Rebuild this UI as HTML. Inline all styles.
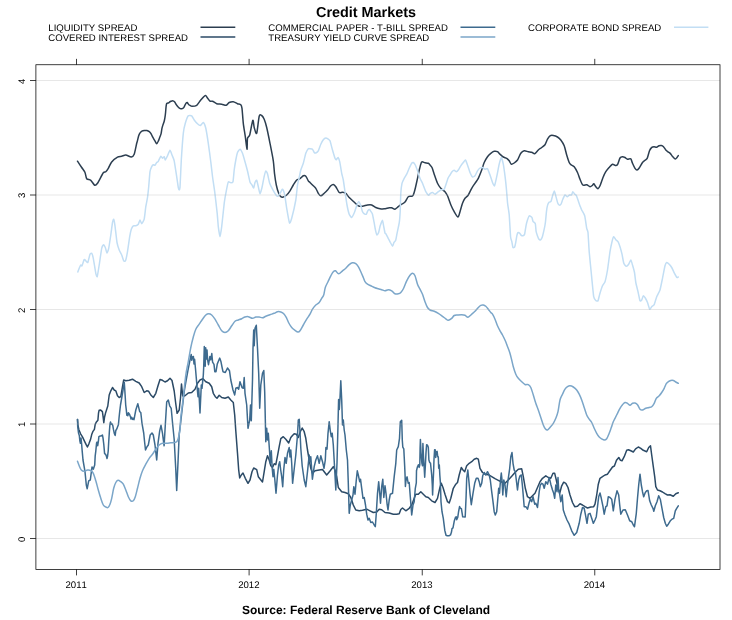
<!DOCTYPE html>
<html><head><meta charset="utf-8"><title>Credit Markets</title>
<style>
html,body{margin:0;padding:0;background:#fff;}
body{width:732px;height:620px;overflow:hidden;font-family:"Liberation Sans",sans-serif;}
svg{display:block;will-change:transform}
text{font-family:"Liberation Sans",sans-serif;fill:#000;text-rendering:geometricPrecision}
.s{font-size:9.6px;font-kerning:none}
.ln{fill:none;stroke-width:1.5;stroke-linejoin:round;stroke-linecap:round}
</style></head><body>
<svg width="732" height="620" viewBox="0 0 732 620">
<rect x="0" y="0" width="732" height="620" fill="#fff"/>
<text x="366" y="16.8" text-anchor="middle" style="font-size:14.4px;font-weight:bold">Credit Markets</text>
<text x="366" y="614.2" text-anchor="middle" style="font-size:12px;font-weight:bold">Source: Federal Reserve Bank of Cleveland</text>
<text class="s" x="48.3" y="31">LIQUIDITY SPREAD</text>
<line x1="200.5" x2="235.3" y1="27.25" y2="27.25" stroke="#2C3E50" stroke-width="1.5"/>
<text class="s" x="48.3" y="41">COVERED INTEREST SPREAD</text>
<line x1="200.5" x2="235.3" y1="37" y2="37" stroke="#2B4A66" stroke-width="1.5"/>
<text class="s" x="268.3" y="31">COMMERCIAL PAPER - T-BILL SPREAD</text>
<line x1="460.5" x2="495.3" y1="27.25" y2="27.25" stroke="#3D6A8E" stroke-width="1.5"/>
<text class="s" x="268.3" y="41">TREASURY YIELD CURVE SPREAD</text>
<line x1="460.5" x2="495.3" y1="37" y2="37" stroke="#7BA6C9" stroke-width="1.5"/>
<text class="s" x="528" y="31">CORPORATE BOND SPREAD</text>
<line x1="674" x2="708.4" y1="27.25" y2="27.25" stroke="#C2DEF4" stroke-width="1.5"/>
<path class="ln" stroke="#2C3E50" d="M77.50 161.20 C78.06 162.04 80.70 165.99 81.70 167.50 C82.70 169.01 84.33 171.01 85.00 172.50 C85.67 173.99 85.93 177.66 86.70 178.70 C87.47 179.74 89.73 179.43 90.80 180.30 C91.87 181.17 93.81 184.80 94.70 185.20 C95.59 185.60 96.35 184.95 97.50 183.30 C98.65 181.65 102.19 174.35 103.30 172.80 C104.41 171.25 105.13 172.30 105.80 171.70 C106.47 171.10 107.51 169.59 108.30 168.30 C109.09 167.01 110.47 163.48 111.70 162.00 C112.93 160.52 116.17 157.96 117.50 157.20 C118.83 156.44 120.59 156.59 121.70 156.30 C122.81 156.01 124.52 154.91 125.80 155.00 C127.08 155.09 130.18 157.11 131.30 157.00 C132.42 156.89 133.48 156.03 134.20 154.20 C134.92 152.37 136.27 145.07 136.70 143.30 C137.13 141.53 137.15 141.86 137.40 140.90 C137.65 139.94 138.27 137.13 138.60 136.10 C138.93 135.07 139.46 133.85 139.90 133.20 C140.34 132.55 141.30 131.56 141.90 131.20 C142.50 130.84 143.73 130.59 144.40 130.50 C145.07 130.41 146.25 130.35 146.90 130.50 C147.55 130.65 148.75 131.19 149.30 131.60 C149.85 132.01 150.56 132.89 151.00 133.60 C151.44 134.31 152.16 136.07 152.60 136.90 C153.04 137.73 153.97 139.23 154.30 139.80 C154.63 140.37 154.78 140.68 155.10 141.20 C155.42 141.72 156.26 143.74 156.70 143.70 C157.14 143.66 158.01 141.70 158.40 140.90 C158.79 140.10 159.24 138.67 159.60 137.70 C159.96 136.73 160.79 134.80 161.10 133.60 C161.41 132.40 161.67 129.79 161.90 128.70 C162.13 127.61 162.49 126.39 162.80 125.40 C163.11 124.41 163.91 122.39 164.20 121.30 C164.49 120.21 164.81 118.41 165.00 117.20 C165.19 115.99 165.47 113.52 165.60 112.20 C165.73 110.88 165.88 108.39 166.00 107.30 C166.12 106.21 166.31 104.55 166.50 104.00 C166.69 103.45 167.11 103.36 167.40 103.20 C167.69 103.04 168.31 103.03 168.70 102.80 C169.09 102.57 169.86 101.75 170.30 101.50 C170.74 101.25 171.56 100.95 172.00 100.90 C172.44 100.85 173.21 100.91 173.60 101.10 C173.99 101.29 174.57 101.86 174.90 102.30 C175.23 102.74 175.73 103.84 176.10 104.40 C176.47 104.96 177.26 106.01 177.70 106.50 C178.14 106.99 178.96 107.79 179.40 108.10 C179.84 108.41 180.56 108.77 181.00 108.80 C181.44 108.83 182.31 108.50 182.70 108.30 C183.09 108.10 183.58 107.77 183.90 107.30 C184.22 106.83 184.79 105.37 185.10 104.80 C185.41 104.23 185.92 103.31 186.20 103.00 C186.48 102.69 186.96 102.42 187.20 102.50 C187.44 102.58 187.79 103.31 188.00 103.60 C188.21 103.89 188.53 104.46 188.80 104.70 C189.07 104.94 189.57 105.19 190.00 105.40 C190.43 105.61 191.11 106.31 192.00 106.30 C192.89 106.29 195.53 106.14 196.70 105.30 C197.87 104.46 199.65 101.31 200.80 100.00 C201.95 98.69 204.41 95.77 205.30 95.50 C206.19 95.23 206.87 97.24 207.50 98.00 C208.13 98.76 209.33 100.77 210.00 101.20 C210.67 101.63 211.61 100.87 212.50 101.20 C213.39 101.53 215.47 103.30 216.70 103.70 C217.93 104.10 220.42 104.00 221.70 104.20 C222.98 104.40 225.30 105.43 226.30 105.20 C227.30 104.97 228.27 102.97 229.20 102.50 C230.13 102.03 232.19 101.54 233.30 101.70 C234.41 101.86 236.50 103.30 237.50 103.70 C238.50 104.10 240.20 104.09 240.80 104.70 C241.40 105.31 241.67 105.82 242.00 108.30 C242.33 110.78 242.86 119.51 243.30 123.30 C243.74 127.09 244.81 133.25 245.30 136.70 C245.79 140.15 246.71 148.99 247.00 149.20 C247.29 149.41 247.14 140.19 247.50 138.30 C247.86 136.41 248.99 137.40 249.70 135.00 C250.41 132.60 252.20 121.30 252.80 120.30 C253.40 119.30 253.68 125.77 254.20 127.50 C254.72 129.23 256.03 134.81 256.70 133.30 C257.37 131.79 258.53 118.57 259.20 116.20 C259.87 113.83 261.03 115.10 261.70 115.50 C262.37 115.90 263.53 117.60 264.20 119.20 C264.87 120.80 265.93 124.29 266.70 127.50 C267.47 130.71 269.12 138.86 270.00 143.30 C270.88 147.74 272.70 156.80 273.30 160.80 C273.90 164.80 274.10 170.07 274.50 173.30 C274.90 176.53 275.74 182.33 276.30 185.00 C276.86 187.67 278.10 191.74 278.70 193.30 C279.30 194.86 280.19 196.21 280.80 196.70 C281.41 197.19 282.51 197.23 283.30 197.00 C284.09 196.77 285.81 195.83 286.70 195.00 C287.59 194.17 289.12 192.13 290.00 190.80 C290.88 189.47 292.41 186.44 293.30 185.00 C294.19 183.56 295.81 180.84 296.70 180.00 C297.59 179.16 299.12 179.26 300.00 178.70 C300.88 178.14 302.53 176.13 303.30 175.80 C304.07 175.47 305.13 175.53 305.80 176.20 C306.47 176.87 307.74 179.96 308.30 180.80 C308.86 181.64 309.33 181.83 310.00 182.50 C310.67 183.17 312.53 185.03 313.30 185.80 C314.07 186.57 315.13 187.30 315.80 188.30 C316.47 189.30 317.63 192.30 318.30 193.30 C318.97 194.30 320.01 195.80 320.80 195.80 C321.59 195.80 323.31 194.07 324.20 193.30 C325.09 192.53 326.62 191.00 327.50 190.00 C328.38 189.00 330.03 186.53 330.80 185.80 C331.57 185.07 332.63 184.38 333.30 184.50 C333.97 184.62 335.01 185.63 335.80 186.70 C336.59 187.77 338.31 191.77 339.20 192.50 C340.09 193.23 341.62 192.09 342.50 192.20 C343.38 192.31 344.91 192.59 345.80 193.30 C346.69 194.01 348.20 196.43 349.20 197.50 C350.20 198.57 352.09 200.19 353.30 201.30 C354.51 202.41 357.07 205.15 358.30 205.80 C359.53 206.45 361.27 206.31 362.50 206.20 C363.73 206.09 366.27 205.16 367.50 205.00 C368.73 204.84 370.59 204.67 371.70 205.00 C372.81 205.33 374.69 207.01 375.80 207.50 C376.91 207.99 378.88 208.53 380.00 208.70 C381.12 208.87 382.97 208.93 384.20 208.80 C385.43 208.67 388.20 207.83 389.20 207.70 C390.20 207.57 390.93 207.60 391.70 207.80 C392.47 208.00 394.12 209.35 395.00 209.20 C395.88 209.05 397.41 207.37 398.30 206.70 C399.19 206.03 400.81 204.83 401.70 204.20 C402.59 203.57 404.12 203.00 405.00 202.00 C405.88 201.00 407.41 197.46 408.30 196.70 C409.19 195.94 411.03 196.53 411.70 196.30 C412.37 196.07 412.82 196.07 413.30 195.00 C413.78 193.93 414.74 190.53 415.30 188.30 C415.86 186.07 416.91 180.97 417.50 178.30 C418.09 175.63 419.14 170.47 419.70 168.30 C420.26 166.13 420.99 162.73 421.70 162.00 C422.41 161.27 424.12 162.63 425.00 162.80 C425.88 162.97 427.63 163.01 428.30 163.30 C428.97 163.59 429.51 164.44 430.00 165.00 C430.49 165.56 431.44 166.27 432.00 167.50 C432.56 168.73 433.47 172.09 434.20 174.20 C434.93 176.31 436.62 181.42 437.50 183.30 C438.38 185.18 439.80 187.18 440.80 188.30 C441.80 189.42 444.11 190.70 445.00 191.70 C445.89 192.70 446.73 194.07 447.50 195.80 C448.27 197.53 449.91 202.58 450.80 204.70 C451.69 206.82 453.24 210.06 454.20 211.70 C455.16 213.34 457.23 217.00 458.00 217.00 C458.77 217.00 459.40 213.53 460.00 211.70 C460.60 209.87 461.83 205.09 462.50 203.30 C463.17 201.51 464.23 199.41 465.00 198.30 C465.77 197.19 467.41 196.33 468.30 195.00 C469.19 193.67 470.81 189.86 471.70 188.30 C472.59 186.74 474.12 184.63 475.00 183.30 C475.88 181.97 477.41 180.07 478.30 178.30 C479.19 176.53 480.91 172.11 481.70 170.00 C482.49 167.89 483.43 164.27 484.20 162.50 C484.97 160.73 486.62 157.93 487.50 156.70 C488.38 155.47 489.91 154.02 490.80 153.30 C491.69 152.58 493.31 151.51 494.20 151.30 C495.09 151.09 496.73 151.31 497.50 151.70 C498.27 152.09 499.23 153.49 500.00 154.20 C500.77 154.91 502.41 156.45 503.30 157.00 C504.19 157.55 505.91 157.79 506.70 158.30 C507.49 158.81 508.59 160.01 509.20 160.80 C509.81 161.59 510.63 163.91 511.30 164.20 C511.97 164.49 513.37 163.56 514.20 163.00 C515.03 162.44 516.62 161.29 517.50 160.00 C518.38 158.71 519.91 154.53 520.80 153.30 C521.69 152.07 523.20 151.01 524.20 150.80 C525.20 150.59 527.30 151.51 528.30 151.70 C529.30 151.89 530.85 151.93 531.70 152.20 C532.55 152.47 533.82 153.99 534.70 153.70 C535.58 153.41 537.37 150.83 538.30 150.00 C539.23 149.17 540.81 148.21 541.70 147.50 C542.59 146.79 544.23 145.81 545.00 144.70 C545.77 143.59 546.83 140.39 547.50 139.20 C548.17 138.01 549.23 136.29 550.00 135.80 C550.77 135.31 552.30 135.34 553.30 135.50 C554.30 135.66 556.50 136.40 557.50 137.00 C558.50 137.60 559.91 138.83 560.80 140.00 C561.69 141.17 563.41 143.80 564.20 145.80 C564.99 147.80 566.03 152.77 566.70 155.00 C567.37 157.23 568.65 161.21 569.20 162.50 C569.75 163.79 570.13 164.14 570.80 164.70 C571.47 165.26 573.31 165.66 574.20 166.70 C575.09 167.74 576.73 170.83 577.50 172.50 C578.27 174.17 579.29 177.53 580.00 179.20 C580.71 180.87 581.91 184.27 582.80 185.00 C583.69 185.73 585.74 184.47 586.70 184.70 C587.66 184.93 589.23 186.62 590.00 186.70 C590.77 186.78 591.99 185.70 592.50 185.30 C593.01 184.90 593.36 183.51 593.80 183.70 C594.24 183.89 595.24 186.03 595.80 186.70 C596.36 187.37 597.44 188.82 598.00 188.70 C598.56 188.58 599.33 187.29 600.00 185.80 C600.67 184.31 602.23 179.38 603.00 177.50 C603.77 175.62 604.97 173.03 605.80 171.70 C606.63 170.37 608.31 168.50 609.20 167.50 C610.09 166.50 611.69 164.47 612.50 164.20 C613.31 163.93 614.63 165.43 615.30 165.50 C615.97 165.57 616.87 165.70 617.50 164.70 C618.13 163.70 619.33 159.07 620.00 158.00 C620.67 156.93 621.83 156.77 622.50 156.70 C623.17 156.63 624.33 157.17 625.00 157.50 C625.67 157.83 626.73 159.03 627.50 159.20 C628.27 159.37 630.13 158.25 630.80 158.80 C631.47 159.35 631.94 162.03 632.50 163.30 C633.06 164.57 634.40 167.41 635.00 168.30 C635.60 169.19 636.44 170.04 637.00 170.00 C637.56 169.96 638.47 169.00 639.20 168.00 C639.93 167.00 641.73 163.53 642.50 162.50 C643.27 161.47 644.36 160.89 645.00 160.30 C645.64 159.71 646.70 159.37 647.30 158.10 C647.90 156.83 648.90 152.23 649.50 150.80 C650.10 149.37 651.20 147.95 651.80 147.40 C652.40 146.85 653.36 146.73 654.00 146.70 C654.64 146.67 655.93 147.32 656.60 147.20 C657.27 147.08 658.37 146.03 659.00 145.80 C659.63 145.57 660.70 145.38 661.30 145.50 C661.90 145.62 662.90 146.10 663.50 146.70 C664.10 147.30 665.20 149.31 665.80 150.00 C666.40 150.69 667.41 151.45 668.00 151.90 C668.59 152.35 669.60 152.80 670.20 153.40 C670.80 154.00 671.82 155.65 672.50 156.40 C673.18 157.15 674.70 158.85 675.30 159.00 C675.90 159.15 676.60 157.95 677.00 157.50 C677.40 157.05 678.13 155.85 678.30 155.60"/>
<path class="ln" stroke="#2B4A66" d="M77.5 419.4 L78.0 425.6 L78.9 429.7 L80.6 433.8 L82.6 437.1 L84.7 441.6 L86.3 444.9 L87.4 447.0 L88.8 444.1 L90.5 439.6 L91.7 434.6 L92.8 431.7 L94.4 429.3 L95.2 424.3 L96.2 422.3 L97.9 420.2 L98.5 413.2 L99.1 410.3 L100.7 410.1 L102.4 411.6 L103.2 417.3 L103.8 422.7 L104.5 417.3 L105.7 412.4 L106.9 408.7 L107.8 406.0 L109.2 395.0 L110.8 390.8 L112.5 387.5 L114.2 390.0 L115.8 390.8 L117.5 395.8 L119.2 397.5 L120.8 396.7 L122.5 386.7 L123.7 380.0 L125.8 380.8 L129.2 380.3 L132.5 379.2 L135.8 381.3 L139.2 383.0 L141.7 386.7 L144.2 392.5 L146.7 390.8 L148.7 391.3 L150.8 395.0 L153.3 397.5 L155.8 393.3 L158.0 385.8 L160.0 379.5 L162.5 380.3 L165.0 382.0 L167.5 380.8 L170.0 378.3 L172.0 380.5 L174.2 391.0 L175.8 404.0 L177.1 413.3 L179.2 410.0 L180.5 398.0 L181.5 384.0 L182.7 396.0 L185.0 395.8 L188.3 393.0 L191.7 392.5 L195.0 389.2 L197.5 383.3 L200.0 380.0 L203.0 378.7 L205.8 381.7 L209.2 383.3 L211.7 386.7 L213.3 393.3 L215.3 396.7 L217.0 398.3 L219.2 395.3 L221.7 397.5 L225.0 398.3 L228.3 397.0 L230.8 400.0 L233.3 402.5 L234.7 415.0 L235.8 431.0 L237.5 453.3 L238.7 470.0 L239.7 478.0 L241.3 475.0 L243.0 473.0 L245.3 478.3 L248.0 483.3 L250.0 480.0 L252.0 471.7 L253.7 468.0 L256.7 469.7 L258.3 476.7 L260.3 479.2 L262.5 482.0 L264.2 471.7 L265.8 461.7 L267.5 455.8 L269.2 460.0 L270.8 465.8 L272.5 467.5 L274.2 463.7 L275.8 464.7 L277.5 455.8 L279.2 446.7 L280.8 438.7 L283.3 436.7 L285.8 439.2 L288.7 443.0 L290.8 437.5 L292.5 435.5 L294.2 433.7 L296.3 434.2 L298.3 437.5 L300.3 431.7 L302.2 428.0 L304.2 431.7 L305.8 438.3 L307.5 450.0 L309.2 460.0 L310.8 468.3 L312.5 473.3 L315.0 470.8 L319.2 470.0 L322.5 469.5 L326.7 475.0 L330.0 471.0 L333.3 466.7 L335.0 470.0 L336.7 476.7 L338.3 487.5 L341.7 491.7 L345.0 492.5 L348.3 493.7 L350.8 497.5 L353.3 505.0 L355.8 510.0 L359.2 510.8 L362.5 510.3 L366.7 509.2 L370.0 510.8 L373.3 512.5 L376.7 512.0 L379.2 509.2 L381.7 509.7 L385.0 512.5 L389.2 513.0 L393.3 514.2 L396.7 514.2 L399.2 513.7 L400.8 509.5 L402.5 508.0 L405.8 510.8 L409.2 508.3 L411.7 505.0 L414.2 498.3 L415.8 494.2 L418.3 494.2 L420.8 491.7 L423.3 494.2 L425.8 496.7 L428.3 497.5 L431.7 500.8 L435.0 502.5 L437.5 498.3 L439.7 488.3 L441.3 483.3 L443.0 487.5 L445.0 494.2 L447.5 501.7 L449.2 503.0 L450.8 498.3 L453.3 488.3 L455.8 484.2 L457.5 482.5 L459.2 475.0 L461.3 467.5 L463.0 470.0 L464.7 471.7 L466.7 465.8 L469.2 463.3 L471.7 461.7 L474.2 459.2 L476.7 458.3 L478.3 459.2 L480.0 468.3 L482.5 472.5 L485.0 474.2 L488.3 474.7 L491.7 476.7 L495.0 478.7 L498.3 480.3 L501.7 482.0 L505.0 483.3 L508.3 480.0 L511.7 476.3 L515.0 472.5 L518.3 469.2 L521.7 468.8 L523.3 476.7 L525.3 488.3 L527.5 496.7 L530.0 498.3 L532.5 495.8 L535.0 493.3 L537.5 487.5 L540.0 481.7 L542.5 478.3 L545.8 475.8 L548.3 477.5 L550.8 478.3 L553.0 473.3 L554.7 473.3 L556.3 480.0 L558.0 488.3 L559.7 493.3 L561.7 485.8 L563.7 482.2 L565.8 483.3 L568.0 487.5 L570.0 495.0 L572.5 502.5 L574.7 506.7 L577.5 506.3 L580.0 503.8 L582.5 505.0 L585.0 506.7 L587.5 508.0 L590.8 507.0 L593.7 506.7 L595.0 504.2 L596.7 495.0 L598.3 484.2 L600.0 478.3 L602.5 476.7 L605.0 475.0 L607.5 474.2 L610.0 470.5 L612.5 467.0 L614.4 466.0 L616.5 460.3 L618.8 457.5 L620.5 460.3 L622.0 460.8 L624.2 456.7 L626.7 450.3 L628.5 449.8 L630.8 450.8 L633.3 452.0 L635.6 448.9 L638.3 447.0 L640.8 448.3 L643.3 450.3 L646.7 451.7 L648.7 447.5 L650.5 445.8 L651.7 455.0 L653.3 466.7 L654.7 476.7 L655.8 486.7 L657.5 490.0 L660.0 490.8 L662.5 492.0 L665.0 493.7 L667.5 495.0 L670.0 494.7 L673.3 496.2 L675.8 493.7 L678.3 492.8"/>
<path class="ln" stroke="#3D6A8E" d="M77.5 419.4 L77.7 426.4 L78.5 433.0 L79.3 435.5 L79.9 441.2 L80.4 443.3 L81.0 437.9 L81.6 443.7 L82.2 451.1 L83.0 460.0 L85.0 471.7 L86.3 485.0 L87.2 488.7 L88.7 480.8 L90.3 480.0 L92.0 467.0 L93.3 469.2 L94.7 465.0 L95.2 455.9 L95.8 451.1 L96.6 442.9 L97.2 442.0 L97.7 445.7 L98.4 441.2 L98.9 436.7 L99.9 436.1 L101.2 435.9 L102.4 435.0 L103.0 437.9 L103.8 444.5 L104.6 453.6 L105.7 454.4 L106.5 456.5 L107.0 458.5 L107.6 456.0 L108.2 451.1 L108.7 442.0 L109.4 431.3 L110.0 423.9 L110.5 421.9 L111.2 424.3 L112.0 423.8 L112.8 425.6 L113.5 429.7 L114.3 433.4 L115.2 435.5 L115.8 430.5 L116.8 428.9 L117.6 426.8 L118.4 424.8 L119.1 417.3 L119.7 411.6 L120.5 405.0 L121.7 398.0 L123.3 388.3 L124.3 382.5 L125.3 398.0 L125.7 405.0 L126.3 409.9 L126.8 415.3 L127.3 413.2 L127.9 415.7 L128.5 412.8 L129.6 414.5 L130.6 417.3 L131.0 419.0 L131.6 417.3 L132.6 419.4 L133.3 418.2 L134.0 419.7 L135.8 410.0 L137.8 403.7 L139.7 411.7 L140.8 412.5 L142.0 423.3 L143.7 433.0 L144.5 441.0 L145.5 450.0 L147.0 446.7 L148.3 445.0 L150.2 435.0 L152.0 433.0 L153.3 435.0 L155.0 445.0 L156.7 460.0 L158.0 443.3 L159.7 430.8 L161.0 425.3 L162.5 433.3 L164.1 445.8 L165.3 425.0 L166.7 402.0 L168.3 400.0 L169.7 405.8 L171.2 408.3 L172.5 422.5 L174.2 439.5 L175.0 455.0 L175.8 470.0 L176.7 490.5 L178.0 462.5 L179.2 434.0 L180.5 424.0 L182.3 408.0 L184.3 390.9 L186.0 381.0 L188.0 370.0 L190.0 360.0 L191.2 354.4 L191.7 360.2 L192.6 357.0 L193.4 356.5 L194.0 363.9 L194.6 359.3 L195.5 368.8 L196.7 382.8 L198.0 396.7 L198.7 388.3 L200.0 413.0 L201.3 385.0 L202.0 388.3 L203.3 375.4 L203.7 367.2 L204.3 346.6 L205.2 366.3 L205.7 347.8 L206.4 358.9 L207.0 349.9 L207.6 359.8 L208.5 364.7 L209.9 356.5 L210.7 359.8 L211.8 353.6 L212.6 362.2 L214.0 364.3 L214.8 371.7 L216.0 371.7 L217.3 363.9 L218.5 361.0 L219.7 358.1 L221.0 361.8 L222.2 368.0 L223.0 371.7 L225.3 372.5 L227.5 368.0 L229.5 370.8 L230.8 380.0 L233.0 390.0 L234.7 395.0 L235.8 388.3 L237.5 387.5 L238.7 389.2 L240.0 381.7 L242.0 387.5 L243.3 388.3 L244.2 377.5 L245.0 393.3 L246.7 405.0 L248.0 428.3 L249.7 420.0 L250.5 405.0 L251.3 420.8 L252.5 380.0 L253.0 348.3 L253.7 330.0 L254.2 345.8 L255.0 328.3 L256.3 325.3 L257.5 348.3 L258.7 373.3 L259.7 408.3 L260.8 385.0 L262.5 373.3 L263.8 370.5 L264.7 391.7 L265.8 441.7 L266.7 428.3 L267.5 440.0 L268.3 433.3 L269.7 453.3 L270.3 463.3 L271.3 450.8 L272.2 468.3 L273.0 476.7 L273.8 469.2 L274.7 478.3 L276.0 493.3 L277.5 475.0 L278.7 465.0 L279.7 461.7 L280.7 470.0 L281.7 476.7 L282.7 486.7 L283.7 470.0 L285.0 457.5 L286.2 463.3 L287.5 453.3 L289.2 447.5 L290.0 457.0 L290.8 450.0 L291.7 463.3 L292.6 483.3 L294.2 469.0 L295.8 455.0 L297.5 435.0 L298.3 420.0 L299.2 419.2 L300.0 431.7 L300.8 448.3 L302.2 466.0 L304.2 480.0 L305.8 486.7 L307.5 471.7 L309.2 455.0 L310.0 461.7 L310.8 456.7 L312.4 479.2 L314.2 466.7 L315.8 460.0 L317.5 455.8 L319.2 463.3 L320.8 455.8 L322.5 461.7 L324.0 468.3 L325.3 460.0 L325.9 447.5 L327.0 449.2 L328.0 433.3 L329.2 421.7 L330.3 430.8 L331.3 436.7 L332.2 433.3 L333.3 445.0 L334.5 466.0 L335.8 490.0 L337.0 463.0 L338.0 425.0 L338.6 399.5 L339.3 409.5 L339.9 400.0 L340.8 380.8 L341.7 400.0 L342.5 425.0 L343.3 420.0 L344.2 430.0 L345.0 435.0 L346.3 450.0 L347.5 460.0 L348.3 483.3 L349.2 513.3 L350.3 505.0 L351.7 500.0 L353.0 495.0 L353.8 486.7 L355.0 494.2 L356.3 480.0 L357.3 470.8 L358.3 475.0 L359.7 481.7 L360.5 479.2 L361.7 488.3 L363.0 498.3 L364.2 497.5 L365.5 505.0 L366.7 514.2 L368.0 520.0 L369.2 518.3 L370.8 522.5 L372.5 522.0 L374.2 525.0 L375.3 526.7 L376.3 513.3 L377.5 493.3 L378.7 481.7 L379.7 493.3 L380.5 503.3 L381.7 486.7 L382.8 479.2 L383.8 497.5 L385.0 485.8 L386.0 493.3 L387.0 503.3 L388.0 510.0 L389.2 500.0 L390.3 494.2 L392.5 493.3 L394.2 476.7 L395.8 463.3 L396.7 450.0 L398.3 446.7 L399.5 438.3 L400.3 421.7 L401.7 420.3 L402.3 440.2 L402.8 447.2 L403.8 448.9 L404.2 456.7 L404.7 466.6 L405.1 476.0 L405.4 486.5 L405.9 481.0 L406.4 478.5 L407.1 476.9 L407.7 480.6 L408.3 483.3 L409.2 482.5 L410.3 496.7 L411.7 515.0 L413.0 505.0 L414.2 501.7 L415.3 488.3 L416.3 482.9 L416.5 470.7 L417.3 467.4 L418.4 464.8 L419.2 467.4 L419.8 464.9 L420.1 448.5 L420.4 439.4 L421.0 452.6 L421.9 463.3 L422.5 465.7 L422.9 443.5 L423.5 456.7 L424.2 468.2 L424.7 477.3 L425.3 466.6 L426.0 452.6 L426.6 444.8 L427.5 445.2 L428.3 447.2 L428.9 460.0 L429.7 462.5 L430.5 463.1 L431.1 469.0 L431.7 474.8 L432.3 485.0 L432.6 495.0 L433.0 485.0 L433.6 471.5 L434.0 459.2 L434.6 449.7 L435.2 449.7 L435.7 457.5 L436.3 451.8 L437.1 451.3 L437.7 456.7 L438.3 456.7 L438.7 468.2 L439.3 464.9 L439.8 474.8 L440.4 482.9 L441.0 501.7 L442.0 511.7 L443.3 518.3 L444.8 530.4 L446.0 535.3 L447.2 535.7 L449.3 535.7 L450.5 534.9 L451.5 532.0 L452.0 528.7 L453.0 527.9 L454.2 521.3 L455.5 517.2 L456.3 516.8 L456.7 519.7 L457.8 517.2 L458.6 511.5 L459.6 506.5 L460.4 508.2 L461.4 508.6 L462.7 516.8 L465.2 517.0 L465.7 505.7 L466.1 496.7 L466.7 478.3 L467.8 470.0 L468.8 480.0 L470.0 493.3 L471.3 504.7 L473.0 493.3 L474.7 483.3 L476.3 478.3 L478.0 478.3 L479.2 481.7 L480.3 486.7 L481.7 483.3 L482.7 475.8 L484.2 472.5 L485.8 475.0 L487.5 471.7 L489.2 475.0 L490.3 480.0 L491.7 491.7 L493.0 501.7 L494.2 511.7 L495.3 515.0 L496.7 511.7 L498.0 496.7 L498.7 488.3 L499.5 493.3 L500.5 480.0 L501.3 473.0 L502.0 480.0 L502.8 495.0 L503.8 480.0 L505.0 485.0 L506.2 496.7 L507.2 486.7 L508.3 478.3 L509.7 468.3 L510.8 456.7 L512.0 452.5 L513.0 463.3 L514.2 470.0 L515.3 471.7 L516.3 480.0 L517.5 490.0 L518.7 480.0 L520.0 475.8 L521.3 475.0 L522.5 486.7 L524.2 506.7 L525.8 506.7 L527.5 509.2 L529.2 502.5 L530.3 499.2 L531.7 501.7 L533.0 496.7 L534.7 504.2 L535.8 503.3 L537.5 507.5 L539.2 491.7 L540.3 485.0 L541.7 483.3 L543.0 484.2 L544.2 488.3 L545.8 481.7 L547.5 484.2 L549.2 477.5 L550.8 484.2 L552.5 490.0 L553.7 493.3 L554.7 498.3 L555.8 485.0 L557.0 491.7 L558.0 477.5 L558.7 490.0 L559.7 494.2 L560.8 501.7 L562.2 495.0 L563.3 510.0 L565.0 515.0 L567.0 520.0 L569.2 524.2 L571.7 530.8 L574.2 535.3 L576.7 532.5 L579.2 523.3 L580.8 514.2 L582.5 507.5 L584.2 508.3 L585.8 516.7 L587.0 523.3 L588.3 514.2 L590.0 513.3 L591.7 518.3 L593.3 523.3 L595.0 520.0 L596.3 516.7 L597.5 506.7 L598.7 496.7 L600.0 493.0 L601.3 498.3 L603.0 506.7 L604.2 514.2 L605.8 506.7 L607.0 505.8 L608.3 496.7 L610.0 497.5 L611.7 499.2 L613.3 510.8 L615.0 499.2 L617.0 490.8 L618.7 495.0 L619.7 505.0 L620.8 514.2 L623.0 510.0 L625.3 509.7 L627.5 515.0 L629.7 520.8 L631.7 521.7 L633.3 525.0 L634.5 526.7 L636.3 513.3 L637.5 498.3 L638.7 485.0 L640.0 474.2 L641.3 485.0 L642.5 491.7 L643.7 496.7 L645.3 492.5 L646.7 490.8 L648.0 490.5 L649.7 500.8 L651.3 505.0 L653.0 508.3 L653.8 511.3 L655.3 505.8 L657.0 501.7 L658.7 495.8 L660.3 499.2 L662.0 508.3 L663.7 517.5 L665.3 523.3 L666.7 526.3 L668.3 524.2 L670.3 520.8 L672.0 519.2 L673.7 518.3 L675.3 510.8 L676.7 508.3 L678.3 505.8"/>
<path class="ln" stroke="#7BA6C9" d="M77.50 461.30 C77.78 462.05 78.57 464.35 79.20 465.80 C79.83 467.25 80.47 469.08 81.30 470.00 C82.13 470.92 83.17 471.30 84.20 471.30 C85.23 471.30 86.40 470.13 87.50 470.00 C88.60 469.87 89.83 469.95 90.80 470.50 C91.77 471.05 92.47 471.58 93.30 473.30 C94.13 475.02 94.97 478.02 95.80 480.80 C96.63 483.58 97.47 487.08 98.30 490.00 C99.13 492.92 99.97 495.80 100.80 498.30 C101.63 500.80 102.47 503.55 103.30 505.00 C104.13 506.45 105.02 506.58 105.80 507.00 C106.58 507.42 107.30 507.97 108.00 507.50 C108.70 507.03 109.38 505.73 110.00 504.20 C110.62 502.67 111.08 500.95 111.70 498.30 C112.32 495.65 113.02 490.93 113.70 488.30 C114.38 485.67 115.08 483.83 115.80 482.50 C116.52 481.17 117.17 480.43 118.00 480.30 C118.83 480.17 119.92 481.05 120.80 481.70 C121.68 482.35 122.47 482.82 123.30 484.20 C124.13 485.58 124.97 487.92 125.80 490.00 C126.63 492.08 127.47 494.90 128.30 496.70 C129.13 498.50 129.97 500.12 130.80 500.80 C131.63 501.48 132.55 501.48 133.30 500.80 C134.05 500.12 134.60 498.78 135.30 496.70 C136.00 494.62 136.72 491.37 137.50 488.30 C138.28 485.23 139.17 481.22 140.00 478.30 C140.83 475.38 141.53 473.15 142.50 470.80 C143.47 468.45 144.68 466.28 145.80 464.20 C146.92 462.12 148.08 459.97 149.20 458.30 C150.32 456.63 151.40 455.72 152.50 454.20 C153.60 452.68 154.68 450.73 155.80 449.20 C156.92 447.67 158.08 445.98 159.20 445.00 C160.32 444.02 161.25 443.58 162.50 443.30 C163.75 443.02 165.32 443.38 166.70 443.30 C168.08 443.22 169.55 442.93 170.80 442.80 C172.05 442.67 173.22 442.68 174.20 442.50 C175.18 442.32 176.02 442.40 176.70 441.70 C177.38 441.00 177.75 440.25 178.30 438.30 C178.85 436.35 179.58 433.47 180.00 430.00 C180.42 426.53 180.25 422.92 180.80 417.50 C181.35 412.08 182.47 404.58 183.30 397.50 C184.13 390.42 184.97 380.97 185.80 375.00 C186.63 369.03 187.47 366.28 188.30 361.70 C189.13 357.12 189.97 351.62 190.80 347.50 C191.63 343.38 192.47 340.05 193.30 337.00 C194.13 333.95 194.82 331.33 195.80 329.20 C196.78 327.07 198.08 325.87 199.20 324.20 C200.32 322.53 201.40 320.73 202.50 319.20 C203.60 317.67 204.77 315.92 205.80 315.00 C206.83 314.08 207.72 313.70 208.70 313.70 C209.68 313.70 210.65 314.08 211.70 315.00 C212.75 315.92 213.90 317.53 215.00 319.20 C216.10 320.87 217.18 323.07 218.30 325.00 C219.42 326.93 220.58 329.55 221.70 330.80 C222.82 332.05 223.90 332.50 225.00 332.50 C226.10 332.50 227.18 331.92 228.30 330.80 C229.42 329.68 230.58 327.38 231.70 325.80 C232.82 324.22 233.90 322.27 235.00 321.30 C236.10 320.33 237.18 320.43 238.30 320.00 C239.42 319.57 240.58 319.20 241.70 318.70 C242.82 318.20 243.90 317.33 245.00 317.00 C246.10 316.67 247.05 316.48 248.30 316.70 C249.55 316.92 251.25 318.25 252.50 318.30 C253.75 318.35 254.68 317.22 255.80 317.00 C256.92 316.78 258.08 316.87 259.20 317.00 C260.32 317.13 261.40 317.92 262.50 317.80 C263.60 317.68 264.55 316.82 265.80 316.30 C267.05 315.78 268.60 315.20 270.00 314.70 C271.40 314.20 272.95 313.80 274.20 313.30 C275.45 312.80 276.40 311.92 277.50 311.70 C278.60 311.48 279.68 311.58 280.80 312.00 C281.92 312.42 283.22 313.15 284.20 314.20 C285.18 315.25 285.93 316.83 286.70 318.30 C287.47 319.77 287.97 321.47 288.80 323.00 C289.63 324.53 290.67 326.28 291.70 327.50 C292.73 328.72 293.95 329.55 295.00 330.30 C296.05 331.05 297.17 331.92 298.00 332.00 C298.83 332.08 299.12 331.97 300.00 330.80 C300.88 329.63 302.18 326.93 303.30 325.00 C304.42 323.07 305.58 321.00 306.70 319.20 C307.82 317.40 309.03 315.87 310.00 314.20 C310.97 312.53 311.53 310.73 312.50 309.20 C313.47 307.67 314.68 306.12 315.80 305.00 C316.92 303.88 318.22 303.62 319.20 302.50 C320.18 301.38 320.95 299.55 321.70 298.30 C322.45 297.05 323.10 296.80 323.70 295.00 C324.30 293.20 324.58 289.72 325.30 287.50 C326.02 285.28 327.08 283.65 328.00 281.70 C328.92 279.75 329.92 277.47 330.80 275.80 C331.68 274.13 332.52 272.53 333.30 271.70 C334.08 270.87 334.60 270.45 335.50 270.80 C336.40 271.15 337.53 273.80 338.70 273.80 C339.87 273.80 341.32 271.72 342.50 270.80 C343.68 269.88 344.68 269.32 345.80 268.30 C346.92 267.28 348.08 265.62 349.20 264.70 C350.32 263.78 351.40 262.97 352.50 262.80 C353.60 262.63 354.83 263.05 355.80 263.70 C356.77 264.35 357.47 265.37 358.30 266.70 C359.13 268.03 359.97 269.90 360.80 271.70 C361.63 273.50 362.60 275.83 363.30 277.50 C364.00 279.17 364.30 280.58 365.00 281.70 C365.70 282.82 366.53 283.52 367.50 284.20 C368.47 284.88 369.55 285.20 370.80 285.80 C372.05 286.40 373.75 287.30 375.00 287.80 C376.25 288.30 377.18 288.48 378.30 288.80 C379.42 289.12 380.58 289.37 381.70 289.70 C382.82 290.03 383.90 290.80 385.00 290.80 C386.10 290.80 387.18 289.70 388.30 289.70 C389.42 289.70 390.58 290.12 391.70 290.80 C392.82 291.48 393.90 293.30 395.00 293.80 C396.10 294.30 397.33 294.02 398.30 293.80 C399.27 293.58 399.93 293.38 400.80 292.50 C401.67 291.62 402.52 290.45 403.50 288.50 C404.48 286.55 405.62 283.00 406.70 280.80 C407.78 278.60 409.03 276.55 410.00 275.30 C410.97 274.05 411.67 273.22 412.50 273.30 C413.33 273.38 414.17 273.98 415.00 275.80 C415.83 277.62 416.67 281.97 417.50 284.20 C418.33 286.43 419.17 287.53 420.00 289.20 C420.83 290.87 421.67 292.12 422.50 294.20 C423.33 296.28 424.17 299.48 425.00 301.70 C425.83 303.92 426.67 306.12 427.50 307.50 C428.33 308.88 428.88 309.37 430.00 310.00 C431.12 310.63 432.82 310.75 434.20 311.30 C435.58 311.85 436.92 312.47 438.30 313.30 C439.68 314.13 441.25 315.38 442.50 316.30 C443.75 317.22 444.83 318.13 445.80 318.80 C446.77 319.47 447.32 320.38 448.30 320.30 C449.28 320.22 450.72 319.10 451.70 318.30 C452.68 317.50 453.23 316.05 454.20 315.50 C455.17 314.95 456.25 315.13 457.50 315.00 C458.75 314.87 460.45 314.65 461.70 314.70 C462.95 314.75 463.95 314.88 465.00 315.30 C466.05 315.72 466.88 317.38 468.00 317.20 C469.12 317.02 470.53 315.18 471.70 314.20 C472.87 313.22 473.90 312.42 475.00 311.30 C476.10 310.18 477.33 308.50 478.30 307.50 C479.27 306.50 479.97 305.72 480.80 305.30 C481.63 304.88 482.47 304.83 483.30 305.00 C484.13 305.17 484.97 305.60 485.80 306.30 C486.63 307.00 487.47 308.17 488.30 309.20 C489.13 310.23 490.10 311.67 490.80 312.50 C491.50 313.33 491.80 313.08 492.50 314.20 C493.20 315.32 494.17 317.27 495.00 319.20 C495.83 321.13 496.67 323.87 497.50 325.80 C498.33 327.73 499.17 329.27 500.00 330.80 C500.83 332.33 501.62 333.33 502.50 335.00 C503.38 336.67 504.50 338.97 505.30 340.80 C506.10 342.63 506.55 344.02 507.30 346.00 C508.05 347.98 509.07 350.37 509.80 352.70 C510.53 355.03 511.12 357.67 511.70 360.00 C512.28 362.33 512.62 364.33 513.30 366.70 C513.98 369.07 514.97 372.27 515.80 374.20 C516.63 376.13 517.32 377.05 518.30 378.30 C519.28 379.55 520.58 380.67 521.70 381.70 C522.82 382.73 523.90 384.00 525.00 384.50 C526.10 385.00 527.33 384.20 528.30 384.70 C529.27 385.20 529.97 385.78 530.80 387.50 C531.63 389.22 532.47 392.37 533.30 395.00 C534.13 397.63 534.97 400.80 535.80 403.30 C536.63 405.80 537.47 407.63 538.30 410.00 C539.13 412.37 539.97 415.00 540.80 417.50 C541.63 420.00 542.55 423.12 543.30 425.00 C544.05 426.88 544.60 427.97 545.30 428.80 C546.00 429.63 546.72 430.22 547.50 430.00 C548.28 429.78 549.03 428.62 550.00 427.50 C550.97 426.38 552.33 424.83 553.30 423.30 C554.27 421.77 555.02 420.23 555.80 418.30 C556.58 416.37 557.30 414.75 558.00 411.70 C558.70 408.65 559.25 402.92 560.00 400.00 C560.75 397.08 561.67 396.00 562.50 394.20 C563.33 392.40 564.17 390.45 565.00 389.20 C565.83 387.95 566.67 387.27 567.50 386.70 C568.33 386.13 569.03 385.75 570.00 385.80 C570.97 385.85 572.18 386.30 573.30 387.00 C574.42 387.70 575.72 388.80 576.70 390.00 C577.68 391.20 578.37 392.53 579.20 394.20 C580.03 395.87 580.87 397.78 581.70 400.00 C582.53 402.22 583.37 405.00 584.20 407.50 C585.03 410.00 585.87 413.05 586.70 415.00 C587.53 416.95 588.37 417.95 589.20 419.20 C590.03 420.45 590.87 420.98 591.70 422.50 C592.53 424.02 593.37 426.50 594.20 428.30 C595.03 430.10 595.87 431.85 596.70 433.30 C597.53 434.75 598.37 436.08 599.20 437.00 C600.03 437.92 600.87 438.30 601.70 438.80 C602.53 439.30 603.37 440.02 604.20 440.00 C605.03 439.98 605.87 439.82 606.70 438.70 C607.53 437.58 608.43 435.17 609.20 433.30 C609.97 431.43 610.62 429.43 611.30 427.50 C611.98 425.57 612.68 423.23 613.30 421.70 C613.92 420.17 614.30 419.70 615.00 418.30 C615.70 416.90 616.67 414.97 617.50 413.30 C618.33 411.63 619.17 409.73 620.00 408.30 C620.83 406.87 621.67 405.67 622.50 404.70 C623.33 403.73 624.17 402.73 625.00 402.50 C625.83 402.27 626.67 402.83 627.50 403.30 C628.33 403.77 629.17 405.30 630.00 405.30 C630.83 405.30 631.67 403.68 632.50 403.30 C633.33 402.92 634.17 402.77 635.00 403.00 C635.83 403.23 636.67 403.67 637.50 404.70 C638.33 405.73 639.17 408.32 640.00 409.20 C640.83 410.08 641.53 410.15 642.50 410.00 C643.47 409.85 644.68 408.72 645.80 408.30 C646.92 407.88 648.22 407.77 649.20 407.50 C650.18 407.23 650.87 407.40 651.70 406.70 C652.53 406.00 653.43 404.70 654.20 403.30 C654.97 401.90 655.47 399.55 656.30 398.30 C657.13 397.05 658.30 396.77 659.20 395.80 C660.10 394.83 660.87 393.75 661.70 392.50 C662.53 391.25 663.43 389.77 664.20 388.30 C664.97 386.83 665.62 384.80 666.30 383.70 C666.98 382.60 667.55 382.23 668.30 381.70 C669.05 381.17 669.97 380.70 670.80 380.50 C671.63 380.30 672.47 380.25 673.30 380.50 C674.13 380.75 674.97 381.53 675.80 382.00 C676.63 382.47 677.88 383.08 678.30 383.30"/>
<path class="ln" stroke="#C2DEF4" d="M77.80 272.00 C77.92 271.69 78.95 268.88 79.20 268.30 C79.45 267.72 80.57 265.21 80.80 265.00 C81.03 264.79 81.72 266.26 82.00 265.80 C82.28 265.34 83.88 259.92 84.20 259.50 C84.52 259.08 85.50 260.55 85.80 260.80 C86.10 261.05 87.45 263.05 87.80 262.50 C88.15 261.95 89.67 254.97 90.00 254.20 C90.33 253.43 91.42 252.96 91.70 253.30 C91.98 253.64 92.96 256.63 93.30 258.30 C93.64 259.97 95.47 271.77 95.80 273.30 C96.12 274.83 96.92 277.39 97.20 276.70 C97.48 276.01 98.83 267.37 99.20 265.00 C99.58 262.63 101.33 249.99 101.70 248.30 C102.08 246.61 103.40 244.77 103.70 244.70 C104.00 244.63 105.02 246.81 105.30 247.50 C105.58 248.19 106.72 252.93 107.00 253.00 C107.28 253.07 108.38 249.80 108.70 248.30 C109.02 246.80 110.48 237.15 110.80 235.00 C111.12 232.85 112.26 223.82 112.50 222.50 C112.74 221.18 113.49 218.92 113.70 219.20 C113.91 219.47 114.72 223.86 115.00 225.80 C115.28 227.74 116.65 240.48 117.00 242.50 C117.35 244.52 118.81 248.96 119.20 250.00 C119.59 251.04 121.33 254.10 121.70 255.00 C122.08 255.90 123.38 260.32 123.70 260.80 C124.02 261.28 125.18 261.56 125.50 260.80 C125.82 260.04 127.15 253.71 127.50 251.70 C127.85 249.69 129.38 238.57 129.70 236.70 C130.02 234.82 131.00 230.11 131.30 229.20 C131.60 228.29 132.93 226.08 133.30 225.80 C133.68 225.52 135.38 225.93 135.80 225.80 C136.22 225.67 137.95 224.68 138.30 224.20 C138.65 223.72 139.72 220.04 140.00 220.00 C140.28 219.96 141.35 223.77 141.70 223.70 C142.05 223.63 143.86 220.62 144.20 219.20 C144.54 217.78 145.53 208.51 145.80 206.70 C146.08 204.89 147.26 199.17 147.50 197.50 C147.74 195.83 148.49 188.85 148.70 186.70 C148.91 184.55 149.75 173.37 150.00 171.70 C150.25 170.03 151.42 167.28 151.70 166.70 C151.97 166.12 153.03 164.82 153.30 164.70 C153.58 164.58 154.72 165.48 155.00 165.30 C155.28 165.12 156.42 162.83 156.70 162.50 C156.97 162.17 157.96 161.82 158.30 161.30 C158.64 160.78 160.45 156.55 160.80 156.30 C161.15 156.05 162.22 158.27 162.50 158.30 C162.78 158.33 163.97 156.56 164.20 156.70 C164.43 156.84 165.03 160.07 165.30 160.00 C165.58 159.93 167.11 156.61 167.50 155.80 C167.89 154.99 169.62 150.37 170.00 150.30 C170.38 150.23 171.65 154.12 172.00 155.00 C172.35 155.88 173.81 158.99 174.20 160.80 C174.59 162.61 176.36 174.47 176.70 176.70 C177.04 178.92 178.09 186.39 178.30 187.50 C178.51 188.61 179.06 190.00 179.20 190.00 C179.34 190.00 179.82 190.00 180.00 187.50 C180.18 185.00 181.03 164.52 181.30 160.00 C181.58 155.48 182.97 136.36 183.30 133.30 C183.63 130.24 184.88 124.76 185.30 123.30 C185.72 121.84 187.77 116.42 188.30 115.80 C188.83 115.17 191.21 115.45 191.70 115.80 C192.19 116.15 193.72 119.34 194.20 120.00 C194.68 120.66 196.99 123.24 197.50 123.70 C198.01 124.16 199.82 125.60 200.30 125.50 C200.78 125.40 202.84 122.27 203.30 122.50 C203.76 122.73 205.38 126.57 205.80 128.30 C206.22 130.03 207.88 140.49 208.30 143.30 C208.72 146.11 210.45 159.23 210.80 162.00 C211.15 164.77 212.18 174.03 212.50 176.50 C212.82 178.97 214.31 188.63 214.70 191.70 C215.09 194.77 216.90 210.38 217.20 213.30 C217.50 216.22 218.07 224.75 218.30 226.70 C218.53 228.65 219.72 236.70 220.00 236.70 C220.28 236.70 221.35 229.48 221.70 226.70 C222.05 223.92 223.82 206.29 224.20 203.30 C224.58 200.31 225.96 192.58 226.30 190.80 C226.64 189.03 227.93 182.67 228.30 182.00 C228.68 181.33 230.41 182.83 230.80 182.80 C231.19 182.78 232.72 182.77 233.00 181.70 C233.28 180.63 233.97 171.81 234.20 170.00 C234.43 168.19 235.53 161.46 235.80 160.00 C236.08 158.54 237.15 153.40 237.50 152.50 C237.85 151.60 239.58 149.13 240.00 149.20 C240.42 149.27 242.08 152.26 242.50 153.30 C242.92 154.34 244.58 160.22 245.00 161.70 C245.42 163.17 247.08 169.31 247.50 171.00 C247.92 172.69 249.62 180.83 250.00 182.00 C250.38 183.17 251.69 184.50 252.00 185.00 C252.31 185.50 253.45 188.21 253.70 188.00 C253.95 187.79 254.75 183.14 255.00 182.50 C255.25 181.86 256.43 179.95 256.70 180.30 C256.97 180.65 258.03 185.57 258.30 186.70 C258.57 187.82 259.69 193.73 260.00 193.80 C260.31 193.87 261.65 188.96 262.00 187.50 C262.35 186.04 263.88 177.68 264.20 176.30 C264.52 174.93 265.53 171.21 265.80 171.00 C266.07 170.79 267.18 172.78 267.50 173.80 C267.82 174.83 269.28 182.02 269.70 183.30 C270.12 184.58 271.99 188.25 272.50 189.20 C273.01 190.15 275.34 194.11 275.80 194.70 C276.26 195.29 277.58 196.53 278.00 196.30 C278.42 196.08 280.43 192.59 280.80 192.00 C281.18 191.41 282.18 188.95 282.50 189.20 C282.82 189.45 284.35 193.41 284.70 195.00 C285.05 196.59 286.30 205.97 286.70 208.30 C287.10 210.63 289.08 222.17 289.50 223.00 C289.92 223.83 291.18 220.22 291.70 218.30 C292.22 216.38 295.32 202.78 295.80 200.00 C296.28 197.22 297.22 186.88 297.50 185.00 C297.78 183.12 298.93 178.75 299.20 177.50 C299.47 176.25 300.46 171.18 300.80 170.00 C301.14 168.82 302.88 164.69 303.30 163.30 C303.72 161.91 305.38 154.52 305.80 153.30 C306.22 152.08 307.95 149.08 308.30 148.70 C308.65 148.32 309.65 148.66 310.00 148.70 C310.35 148.74 312.15 148.88 312.50 149.20 C312.85 149.52 313.93 152.18 314.20 152.50 C314.47 152.82 315.46 153.14 315.80 153.00 C316.14 152.86 317.88 151.53 318.30 150.80 C318.72 150.07 320.38 145.12 320.80 144.20 C321.22 143.27 322.88 140.22 323.30 139.70 C323.72 139.18 325.38 138.04 325.80 138.00 C326.22 137.96 327.95 138.97 328.30 139.20 C328.65 139.43 329.65 139.90 330.00 140.80 C330.35 141.70 332.08 148.54 332.50 150.00 C332.92 151.46 334.68 157.49 335.00 158.30 C335.32 159.11 336.05 159.77 336.30 159.70 C336.55 159.63 337.72 157.33 338.00 157.50 C338.28 157.67 339.39 160.38 339.70 161.70 C340.01 163.02 341.40 171.78 341.70 173.30 C342.00 174.83 343.03 178.47 343.30 180.00 C343.57 181.53 344.69 189.62 345.00 191.70 C345.31 193.78 346.65 203.12 347.00 205.00 C347.35 206.88 348.81 213.16 349.20 214.20 C349.59 215.24 351.26 217.66 351.70 217.50 C352.14 217.34 354.08 213.29 354.50 212.30 C354.92 211.31 356.35 206.48 356.70 205.60 C357.05 204.72 358.38 201.75 358.70 201.70 C359.02 201.65 360.30 204.21 360.60 205.00 C360.90 205.79 362.02 210.47 362.30 211.20 C362.58 211.92 363.68 213.44 364.00 213.70 C364.32 213.96 365.88 214.56 366.20 214.30 C366.52 214.04 367.62 211.00 367.90 210.60 C368.18 210.20 369.37 209.45 369.60 209.50 C369.83 209.55 370.47 210.82 370.70 211.20 C370.93 211.57 372.12 213.07 372.40 214.00 C372.68 214.93 373.84 221.05 374.10 222.40 C374.36 223.75 375.27 229.15 375.50 230.20 C375.73 231.25 376.64 234.81 376.90 235.00 C377.16 235.19 378.33 233.27 378.60 232.50 C378.88 231.73 379.88 226.83 380.20 225.80 C380.52 224.78 382.22 220.20 382.50 220.20 C382.78 220.20 383.39 224.73 383.60 225.80 C383.81 226.87 384.82 232.35 385.00 233.00 C385.18 233.65 385.54 233.17 385.80 233.60 C386.06 234.03 387.73 237.38 388.10 238.10 C388.48 238.82 389.93 241.62 390.30 242.30 C390.68 242.98 392.30 246.17 392.60 246.20 C392.90 246.22 393.64 243.09 393.90 242.60 C394.16 242.11 395.44 241.05 395.70 240.30 C395.96 239.55 396.70 235.09 397.00 233.60 C397.30 232.11 399.03 224.27 399.30 222.40 C399.57 220.53 400.07 213.62 400.20 211.20 C400.32 208.77 400.65 195.62 400.80 193.30 C400.95 190.98 401.72 184.55 402.00 183.30 C402.28 182.05 403.81 179.06 404.20 178.30 C404.59 177.54 406.28 175.03 406.70 174.20 C407.12 173.37 408.78 169.21 409.20 168.30 C409.62 167.39 411.36 163.78 411.70 163.30 C412.04 162.82 413.00 162.36 413.30 162.50 C413.60 162.64 414.95 164.31 415.30 165.00 C415.65 165.69 417.11 169.69 417.50 170.80 C417.89 171.91 419.58 177.26 420.00 178.30 C420.42 179.34 422.02 182.18 422.50 183.30 C422.98 184.42 425.28 190.70 425.80 191.70 C426.32 192.70 428.35 195.13 428.70 195.30 C429.05 195.47 429.68 193.93 430.00 193.70 C430.32 193.47 432.08 192.46 432.50 192.50 C432.92 192.54 434.52 194.27 435.00 194.20 C435.48 194.13 437.82 192.05 438.30 191.70 C438.78 191.35 440.31 190.21 440.80 190.00 C441.29 189.79 443.78 189.62 444.20 189.20 C444.62 188.78 445.48 185.91 445.80 185.00 C446.12 184.09 447.65 179.13 448.00 178.30 C448.35 177.47 449.67 175.55 450.00 175.00 C450.33 174.45 451.65 172.09 452.00 171.70 C452.35 171.31 453.84 170.30 454.20 170.30 C454.56 170.30 455.96 171.72 456.30 171.70 C456.64 171.67 457.93 170.49 458.30 170.00 C458.68 169.51 460.38 166.43 460.80 165.80 C461.22 165.18 462.91 162.98 463.30 162.50 C463.69 162.02 465.15 159.79 465.50 160.00 C465.85 160.21 467.12 163.96 467.50 165.00 C467.88 166.04 469.58 171.50 470.00 172.50 C470.42 173.50 472.08 176.72 472.50 177.00 C472.92 177.28 474.58 176.32 475.00 175.80 C475.42 175.28 477.08 171.45 477.50 170.80 C477.92 170.15 479.58 168.28 480.00 168.00 C480.42 167.72 482.08 167.40 482.50 167.50 C482.92 167.60 484.58 169.10 485.00 169.20 C485.42 169.30 487.08 168.22 487.50 168.70 C487.92 169.18 489.58 173.85 490.00 175.00 C490.42 176.15 492.12 181.60 492.50 182.50 C492.88 183.40 494.15 186.28 494.50 185.80 C494.85 185.32 496.31 178.50 496.70 176.70 C497.09 174.90 498.82 165.80 499.20 164.20 C499.58 162.60 500.96 157.50 501.30 157.50 C501.64 157.50 502.97 162.47 503.30 164.20 C503.63 165.93 505.03 176.15 505.30 178.30 C505.57 180.45 506.31 187.91 506.50 190.00 C506.69 192.09 507.38 201.35 507.60 203.40 C507.83 205.45 508.95 211.80 509.20 214.60 C509.45 217.40 510.38 234.76 510.60 237.00 C510.82 239.24 511.61 240.63 511.80 241.50 C511.99 242.37 512.67 246.93 512.90 247.40 C513.13 247.87 514.37 247.50 514.60 247.10 C514.83 246.70 515.52 243.53 515.70 242.60 C515.88 241.67 516.62 236.73 516.80 235.90 C516.98 235.07 517.67 232.83 517.90 232.60 C518.13 232.37 519.32 232.87 519.60 233.10 C519.88 233.33 521.02 235.18 521.30 235.40 C521.58 235.62 522.73 235.80 523.00 235.70 C523.27 235.60 524.35 235.02 524.60 234.20 C524.85 233.38 525.77 226.97 526.00 225.80 C526.23 224.63 527.12 221.03 527.40 220.20 C527.67 219.37 528.92 216.03 529.30 215.80 C529.67 215.57 531.59 216.93 531.90 217.40 C532.21 217.87 532.72 220.88 533.00 221.40 C533.28 221.92 535.04 222.77 535.30 223.60 C535.56 224.43 535.92 230.38 536.10 231.40 C536.28 232.43 537.26 235.24 537.50 235.90 C537.74 236.56 538.74 238.98 539.00 239.30 C539.26 239.62 540.33 239.99 540.60 239.80 C540.88 239.61 542.00 237.88 542.30 237.00 C542.60 236.12 543.94 230.41 544.20 229.20 C544.46 227.99 545.21 223.99 545.40 222.50 C545.59 221.01 546.32 212.75 546.50 211.30 C546.68 209.85 547.37 205.87 547.60 205.10 C547.83 204.33 549.02 202.40 549.30 202.10 C549.58 201.80 550.73 202.04 551.00 201.50 C551.27 200.96 552.33 196.47 552.60 195.60 C552.88 194.73 554.04 191.10 554.30 191.10 C554.56 191.10 555.42 194.62 555.70 195.60 C555.98 196.58 557.39 202.11 557.70 202.90 C558.01 203.69 559.12 205.01 559.40 205.10 C559.68 205.19 560.83 204.47 561.10 204.00 C561.38 203.53 562.38 200.25 562.70 199.50 C563.03 198.75 564.62 195.23 565.00 195.00 C565.38 194.77 566.83 196.70 567.20 196.70 C567.58 196.70 569.14 195.14 569.50 195.00 C569.86 194.86 571.23 195.28 571.50 195.00 C571.77 194.72 572.55 191.79 572.80 191.70 C573.05 191.61 574.20 193.58 574.50 193.90 C574.80 194.22 576.07 194.99 576.40 195.60 C576.73 196.21 578.07 200.27 578.40 201.20 C578.73 202.13 580.12 206.07 580.40 206.80 C580.67 207.53 581.34 209.25 581.70 210.00 C582.06 210.75 584.28 214.28 584.70 215.80 C585.12 217.33 586.43 226.91 586.70 228.30 C586.98 229.69 587.79 230.55 588.00 232.50 C588.21 234.45 588.93 248.30 589.20 251.70 C589.48 255.10 590.92 269.55 591.30 273.30 C591.67 277.05 593.33 294.43 593.70 296.70 C594.08 298.97 595.44 300.16 595.80 300.50 C596.16 300.84 597.67 301.32 598.00 300.80 C598.33 300.28 599.33 295.45 599.70 294.20 C600.08 292.95 602.06 286.84 602.50 285.80 C602.94 284.76 604.58 283.02 605.00 281.70 C605.42 280.38 607.08 272.50 607.50 270.00 C607.92 267.50 609.62 254.06 610.00 251.70 C610.38 249.34 611.69 242.95 612.00 241.70 C612.31 240.45 613.38 236.87 613.70 236.70 C614.02 236.53 615.44 239.28 615.80 239.70 C616.16 240.12 617.65 241.12 618.00 241.70 C618.35 242.28 619.67 245.66 620.00 246.70 C620.33 247.74 621.68 252.82 622.00 254.20 C622.32 255.58 623.44 262.29 623.80 263.30 C624.16 264.31 625.89 266.23 626.30 266.30 C626.71 266.38 628.33 264.72 628.70 264.20 C629.08 263.68 630.48 259.93 630.80 260.00 C631.12 260.07 632.19 263.96 632.50 265.00 C632.81 266.04 634.23 271.04 634.50 272.50 C634.77 273.96 635.51 280.90 635.80 282.50 C636.09 284.10 637.65 290.18 638.00 291.70 C638.35 293.22 639.69 300.11 640.00 300.80 C640.31 301.49 641.43 300.42 641.70 300.00 C641.98 299.58 643.00 295.97 643.30 295.80 C643.60 295.63 644.95 297.44 645.30 298.00 C645.65 298.56 647.13 301.57 647.50 302.50 C647.87 303.43 649.35 308.85 649.70 309.20 C650.05 309.55 651.33 307.07 651.70 306.70 C652.08 306.32 653.78 305.53 654.20 304.70 C654.62 303.87 656.22 297.93 656.70 296.70 C657.18 295.47 659.52 291.53 660.00 290.00 C660.48 288.47 662.08 280.32 662.50 278.30 C662.92 276.28 664.65 267.12 665.00 265.80 C665.35 264.48 666.35 262.63 666.70 262.50 C667.05 262.37 668.78 263.78 669.20 264.20 C669.62 264.62 671.26 266.74 671.70 267.50 C672.14 268.26 674.06 272.47 674.50 273.30 C674.94 274.13 676.68 277.19 677.00 277.50 C677.32 277.81 678.19 277.04 678.30 277.00"/>
<line x1="35.9" x2="720.0" y1="80.5" y2="80.5" stroke="#b0b0b0" stroke-opacity="0.3" stroke-width="1"/>
<line x1="35.9" x2="720.0" y1="195.0" y2="195.0" stroke="#b0b0b0" stroke-opacity="0.3" stroke-width="1"/>
<line x1="35.9" x2="720.0" y1="309.5" y2="309.5" stroke="#b0b0b0" stroke-opacity="0.3" stroke-width="1"/>
<line x1="35.9" x2="720.0" y1="424.0" y2="424.0" stroke="#b0b0b0" stroke-opacity="0.3" stroke-width="1"/>
<line x1="35.9" x2="720.0" y1="538.5" y2="538.5" stroke="#b0b0b0" stroke-opacity="0.3" stroke-width="1"/>
<rect x="35.9" y="64.75" width="684.1" height="504.75" fill="none" stroke="#000" stroke-width="0.75"/>
<line x1="30.0" x2="35.9" y1="80.5" y2="80.5" stroke="#000" stroke-width="0.75"/>
<text class="s" style="text-rendering:geometricPrecision" transform="translate(24.6,81.35) rotate(-90)" text-anchor="middle">4</text>
<line x1="30.0" x2="35.9" y1="195.0" y2="195.0" stroke="#000" stroke-width="0.75"/>
<text class="s" style="text-rendering:geometricPrecision" transform="translate(24.6,195.3) rotate(-90)" text-anchor="middle">3</text>
<line x1="30.0" x2="35.9" y1="309.5" y2="309.5" stroke="#000" stroke-width="0.75"/>
<text class="s" style="text-rendering:geometricPrecision" transform="translate(24.6,310.3) rotate(-90)" text-anchor="middle">2</text>
<line x1="30.0" x2="35.9" y1="424.0" y2="424.0" stroke="#000" stroke-width="0.75"/>
<text class="s" style="text-rendering:geometricPrecision" transform="translate(24.6,424.3) rotate(-90)" text-anchor="middle">1</text>
<line x1="30.0" x2="35.9" y1="538.5" y2="538.5" stroke="#000" stroke-width="0.75"/>
<text class="s" style="text-rendering:geometricPrecision" transform="translate(24.6,539.35) rotate(-90)" text-anchor="middle">0</text>
<line x1="76.5" x2="76.5" y1="569.5" y2="575.4" stroke="#000" stroke-width="0.75"/>
<line x1="76.5" x2="76.5" y1="58.85" y2="64.75" stroke="#000" stroke-width="0.75"/>
<text class="s" x="76.2" y="587.9" text-anchor="middle">2011</text>
<line x1="249.1" x2="249.1" y1="569.5" y2="575.4" stroke="#000" stroke-width="0.75"/>
<line x1="249.1" x2="249.1" y1="58.85" y2="64.75" stroke="#000" stroke-width="0.75"/>
<text class="s" x="248.79999999999998" y="587.9" text-anchor="middle">2012</text>
<line x1="422.25" x2="422.25" y1="569.5" y2="575.4" stroke="#000" stroke-width="0.75"/>
<line x1="422.25" x2="422.25" y1="58.85" y2="64.75" stroke="#000" stroke-width="0.75"/>
<text class="s" x="421.95" y="587.9" text-anchor="middle">2013</text>
<line x1="594.75" x2="594.75" y1="569.5" y2="575.4" stroke="#000" stroke-width="0.75"/>
<line x1="594.75" x2="594.75" y1="58.85" y2="64.75" stroke="#000" stroke-width="0.75"/>
<text class="s" x="594.45" y="587.9" text-anchor="middle">2014</text>
</svg></body></html>
